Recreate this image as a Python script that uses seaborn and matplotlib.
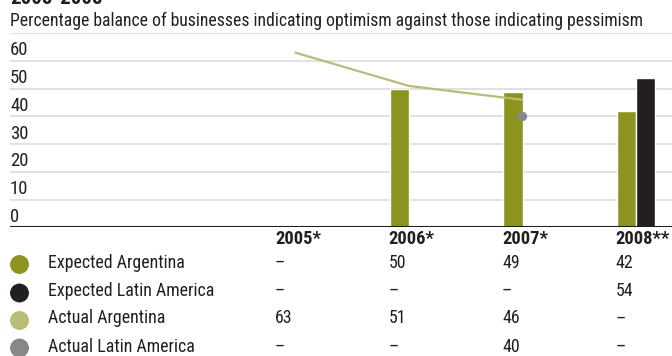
import matplotlib
matplotlib.use("Agg")
import matplotlib.pyplot as plt
import numpy as np
import pandas as pd
import seaborn as sns

# ---- data ----
years = ["2005*", "2006*", "2007*", "2008**"]
expected_argentina = [np.nan, 50, 49, 42]
expected_latam = [np.nan, np.nan, np.nan, 54]
actual_argentina = [63, 51, 46, np.nan]
actual_latam = [np.nan, np.nan, 40, np.nan]
series_names = ["Expected Argentina", "Expected Latin America",
                "Actual Argentina", "Actual Latin America"]
y_ticks = [0, 10, 20, 30, 40, 50, 60]

title = "2005-2008"
subtitle = "Percentage balance of businesses indicating optimism against those indicating pessimism"

# ---- style ----
C_EXP_ARG = "#8c9420"
C_EXP_LAT = "#231f20"
C_ACT_ARG = "#b9bc78"
C_ACT_LAT = "#88888b"
C_TEXT = "#231f20"
C_GRID = "#d9d9d9"

sns.set_style("white")
plt.rcParams["font.family"] = ["Roboto Condensed", "IBM Plex Sans Condensed",
                               "Liberation Sans", "DejaVu Sans"]

W, H = 672, 356
fig = plt.figure(figsize=(W / 100, H / 100), dpi=100)

ax_top, ax_bot, ax_left = 33.3, 227.3, 10
ax = fig.add_axes([ax_left / W, 1 - ax_bot / H, (W - ax_left) / W, (ax_bot - ax_top) / H])

bars = pd.DataFrame({
    "year": years * 2,
    "series": [series_names[0]] * 4 + [series_names[1]] * 4,
    "value": expected_argentina + expected_latam,
}).dropna()

sns.barplot(data=bars, x="year", y="value", hue="series", order=years,
            hue_order=series_names[:2], palette=[C_EXP_ARG, C_EXP_LAT],
            width=0.335, saturation=1, legend=False, ax=ax, zorder=3)

idx = np.arange(len(years))
act_arg = pd.DataFrame({"x": idx, "y": actual_argentina}).dropna()
sns.lineplot(data=act_arg, x="x", y="y", color=C_ACT_ARG, lw=1.6, ax=ax, zorder=4)
act_lat = pd.DataFrame({"x": idx, "y": actual_latam}).dropna()
sns.scatterplot(data=act_lat, x="x", y="y", color=C_ACT_LAT, s=45,
                edgecolor="none", ax=ax, zorder=5)

ax.set_xlim(-2.515, 3.317)
ax.set_ylim(0, 70)
ax.set_yticks(y_ticks + [70])
ax.yaxis.grid(True, color=C_GRID, lw=1.1)
ax.set_axisbelow(True)
ax.tick_params(left=False, bottom=False, labelleft=False, labelbottom=False)
for s in ax.spines.values():
    s.set_visible(False)
ax.axhline(0, color=C_TEXT, lw=1.5, zorder=6)
ax.set_xlabel("")
ax.set_ylabel("")

for v in y_ticks:
    ax.annotate(str(v), xy=(0, v), xycoords=ax.get_yaxis_transform(),
                xytext=(0, 4), textcoords="offset points",
                ha="left", va="baseline", fontsize=13.5, color=C_TEXT)

# ---- headings ----
fig.text(10 / W, 1 - 3.5 / H, title, fontsize=15, fontweight="bold",
         color=C_TEXT, va="baseline", ha="left")
fig.text(10 / W, 1 - 26.5 / H, subtitle, fontsize=12.7, color=C_TEXT,
         va="baseline", ha="left")

# ---- data table beneath the chart ----
FS = 12.9
tab = fig.add_axes([0, 0, 1, 1], zorder=-1)
tab.set_xlim(0, W)
tab.set_ylim(H, 0)
tab.axis("off")

col_x = [275, 388.5, 502, 615.5]
for x, yr in zip(col_x, years):
    tab.text(x, 244, yr, fontsize=13.3, fontweight="bold", color=C_TEXT,
             va="baseline", ha="left")

rows = [expected_argentina, expected_latam, actual_argentina, actual_latam]
colors = [C_EXP_ARG, C_EXP_LAT, C_ACT_ARG, C_ACT_LAT]
row_base = [267.7, 295.5, 323.3, 351.5]
marker_y = [264.5, 293.0, 320.5, 348.0]
for name, vals, col, yb, ym in zip(series_names, rows, colors, row_base, marker_y):
    tab.scatter([19.5], [ym], s=185, color=col, edgecolor="none")
    tab.text(48, yb, name, fontsize=FS, color=C_TEXT, va="baseline", ha="left")
    for x, v in zip(col_x, vals):
        txt = "–" if np.isnan(v) else f"{v:.0f}"
        tab.text(x, yb, txt, fontsize=FS, color=C_TEXT, va="baseline", ha="left")

fig.savefig("out.png", dpi=100)
